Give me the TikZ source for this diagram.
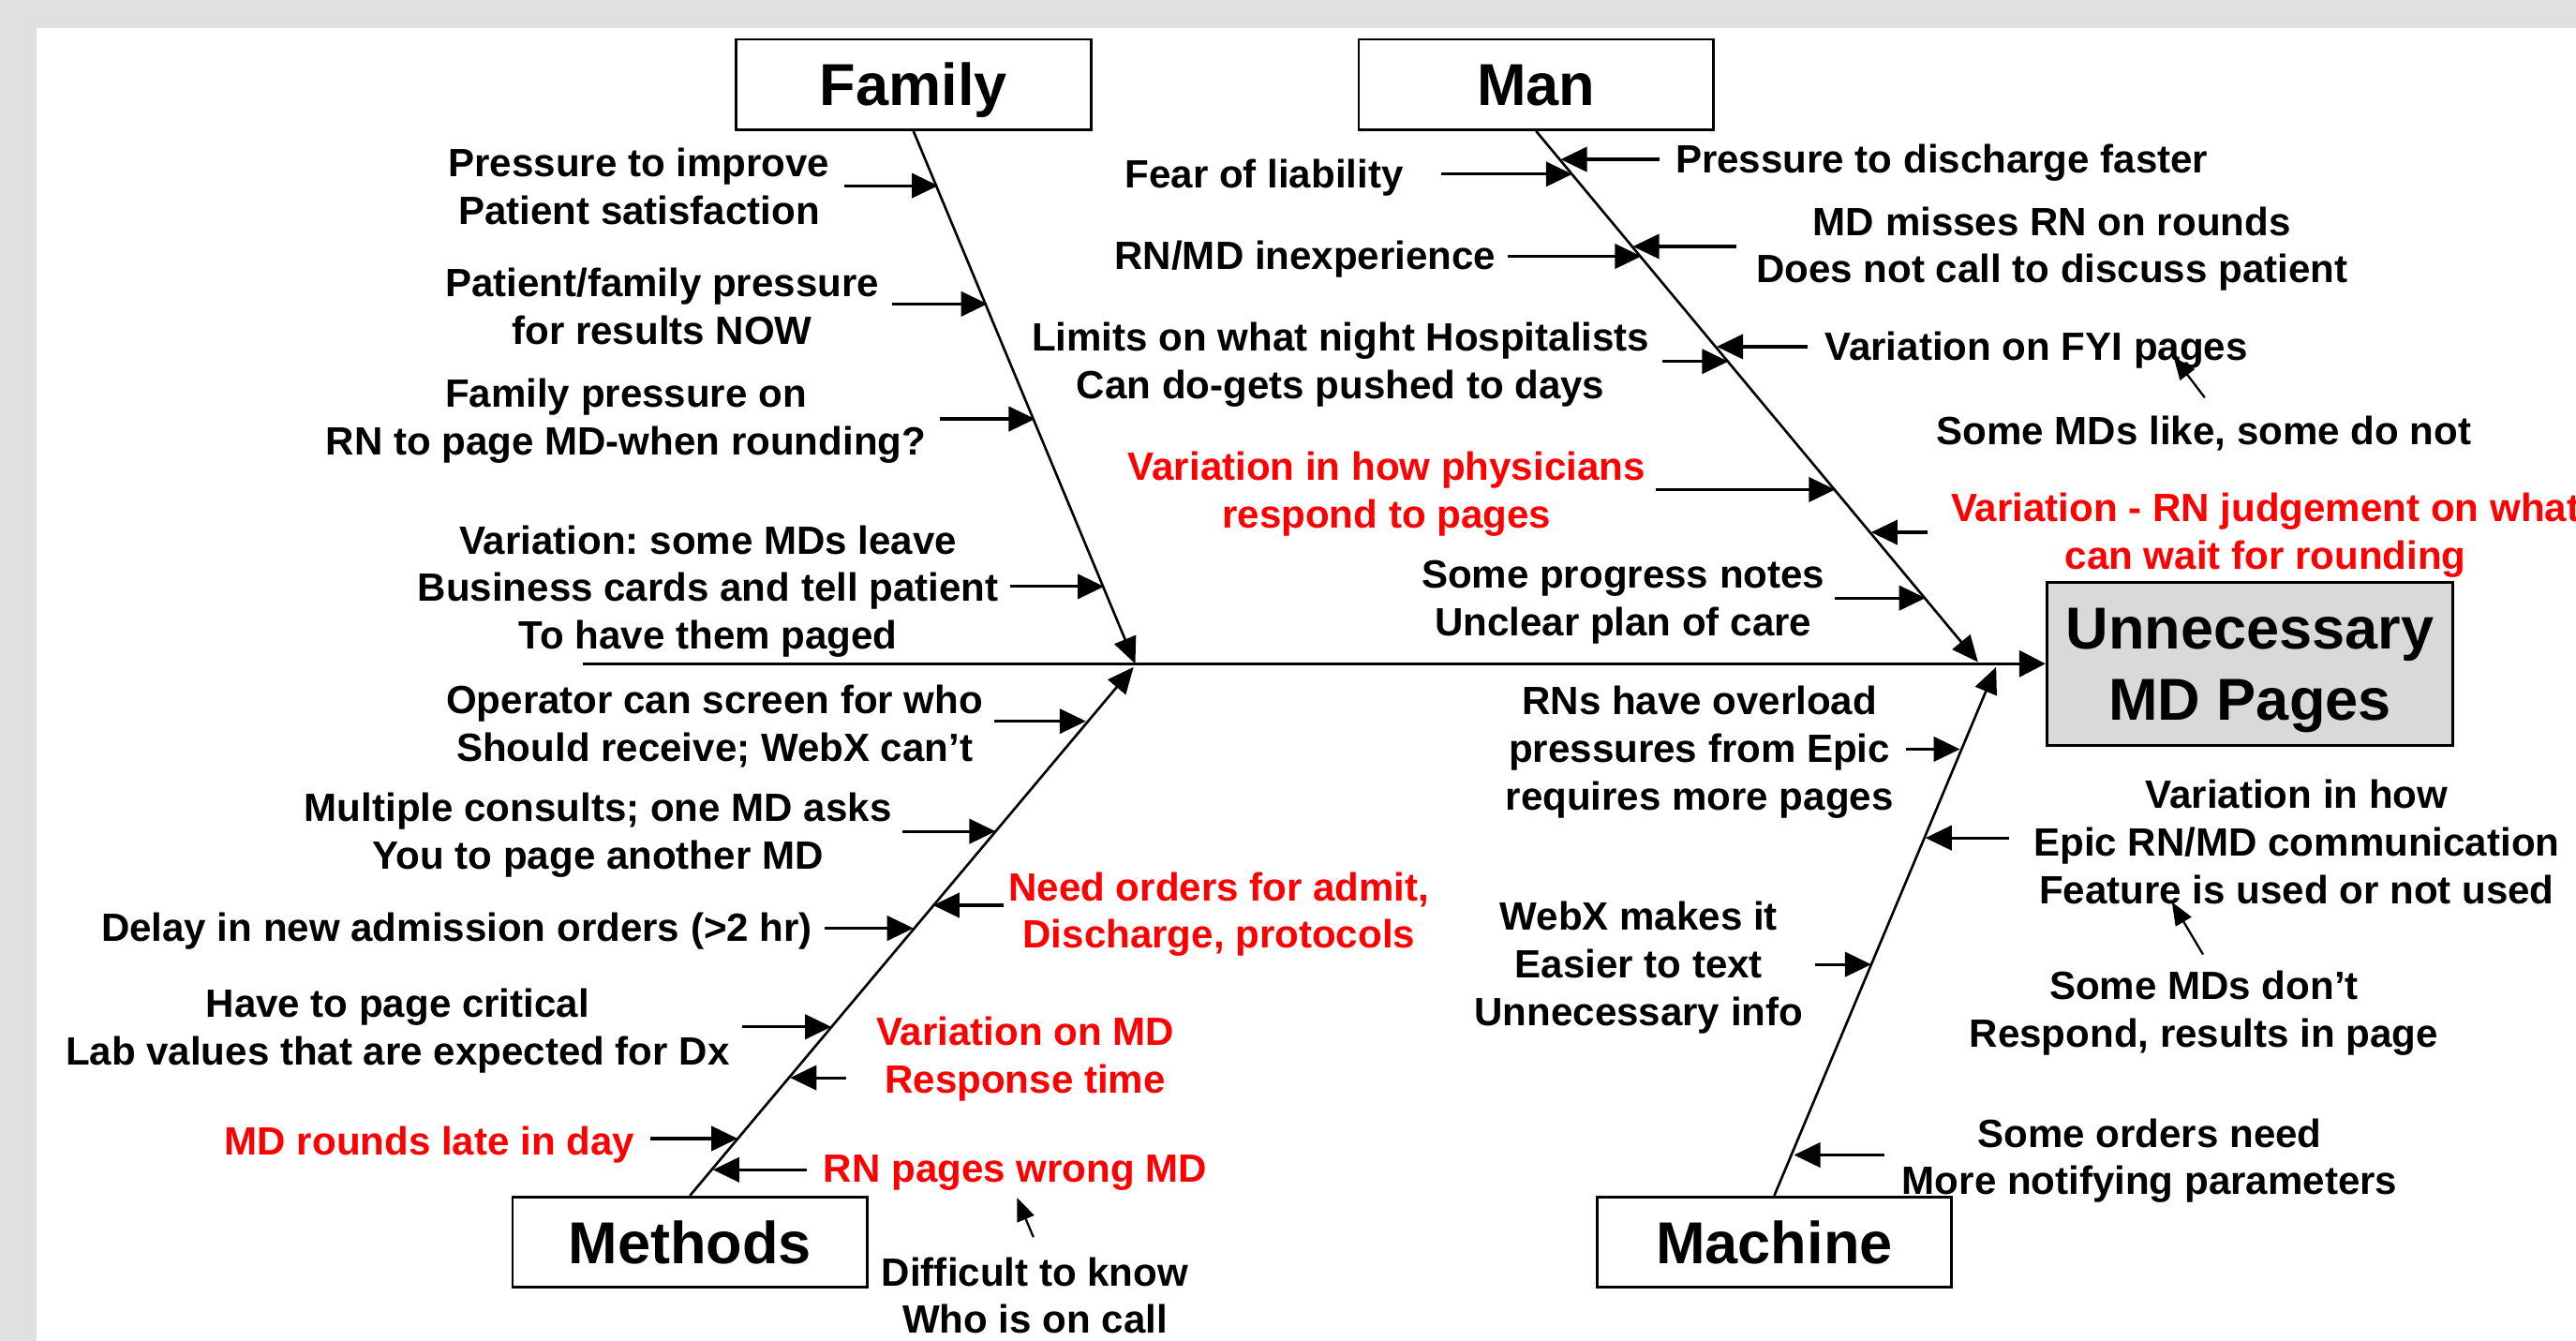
\documentclass[tikz,border=0pt]{standalone}
\usepackage{fontspec}
\setmainfont{Liberation Sans}
\usetikzlibrary{arrows.meta}
\definecolor{bggray}{RGB}{224,224,224}
\definecolor{boxgray}{RGB}{217,217,217}
\frenchspacing
\begin{document}
\begin{tikzpicture}[x=1pt,y=-1pt,
  txt/.style={font=\fontsize{24}{29}\selectfont\bfseries, align=center, inner sep=0pt, yshift=-2pt},
  redtxt/.style={txt, text=red},
  catbox/.style={draw, line width=1.6pt, minimum width=216pt, minimum height=55pt, inner sep=0pt},
  title/.style={font=\fontsize{36}{43}\selectfont\bfseries, align=center, inner sep=0pt},
  bone/.style={line width=1.5pt, -{Triangle[length=16pt,width=14pt]}},
  cause/.style={line width=1.8pt, -{Triangle[length=16pt,width=15pt]}},
  pointer/.style={line width=1.3pt, -{Triangle[length=14pt,width=11pt]}}
]
\useasboundingbox (0,0) rectangle (1568,816);
\fill[white] (0,0) rectangle (1568,816);
\fill[bggray] (0,0) rectangle (1568,17);
\fill[bggray] (0,0) rectangle (22,816);

% category boxes and effect
\node[catbox] (fam) at (556,51.5) {};
\node[catbox] (man) at (935,51.5) {};
\node[catbox] (meth) at (420,756) {};
\node[catbox] (mach) at (1080,756) {};
\node[title, anchor=base] (famL) at (556,64) {Family};
\node[title, anchor=base] (manL) at (935,64) {Man};
\node[title, anchor=base] (methL) at (420,769) {Methods};
\node[title, anchor=base] (machL) at (1080,769) {Machine};
\node[draw, line width=1.8pt, fill=boxgray, minimum width=247pt, minimum height=99pt, inner sep=0pt] (eff) at (1369.5,404) {};
\node[title] (effL) at (1369.5,408) {Unnecessary\\MD Pages};

% spine and bones
\coordinate (spineL) at (355,404);
\draw[line width=2pt, -{Triangle[length=16pt,width=16pt]}] (spineL) -- (eff.west);
\coordinate (famT) at (691,404);
\coordinate (manT) at (1204,403);
\coordinate (methT) at (690,406);
\coordinate (machT) at (1215,406);
\draw[bone] (fam.south) -- (famT);
\draw[bone] (man.south) -- (manT);
\draw[bone] (meth.north) -- (methT);
\draw[bone] (mach.north) -- (machT);

% Family causes
\node[txt] (t1) at (389,111.5) {Pressure to improve\\Patient satisfaction};
\node[txt] (t2) at (403,184.5) {Patient/family pressure\\for results NOW};
\node[txt] (t3) at (381,254) {Family pressure on\\RN to page MD-when rounding?};
\node[txt] (t4) at (431,358) {Variation: some MDs leave\\Business cards and tell patient\\To have them paged};
\coordinate (f1s) at (514,113); \coordinate (f1e) at (571,113);
\coordinate (f2s) at (543,185); \coordinate (f2e) at (601,185);
\coordinate (f3s) at (572,255); \coordinate (f3e) at (630,255);
\coordinate (f4s) at (615,357); \coordinate (f4e) at (672,357);
\draw[cause] (f1s) -- (f1e);
\draw[cause] (f2s) -- (f2e);
\draw[cause] (f3s) -- (f3e);
\draw[cause] (f4s) -- (f4e);

% Man causes
\node[txt] (t5) at (769.5,106) {Fear of liability};
\node[txt] (t6) at (1182,97) {Pressure to discharge faster};
\node[txt] (t7) at (794.5,156) {RN/MD inexperience};
\node[txt] (t8) at (1249,149.5) {MD misses RN on rounds\\Does not call to discuss patient};
\node[txt] (t9) at (816,220) {Limits on what night Hospitalists\\Can do-gets pushed to days};
\node[txt] (t10) at (1239.5,211) {Variation on FYI pages};
\node[txt] (t11) at (1341.5,262) {Some MDs like, some do not};
\node[redtxt] (t12) at (844,298.5) {Variation in how physicians\\respond to pages};
\node[redtxt] (t13) at (1379,324) {Variation - RN judgement on what\\can wait for rounding};
\node[txt] (t14) at (988,364.5) {Some progress notes\\Unclear plan of care};
\coordinate (m1s) at (877,106); \coordinate (m1e) at (957,106);
\coordinate (m2s) at (1010,97); \coordinate (m2e) at (950,97);
\coordinate (m3s) at (918,156); \coordinate (m3e) at (999,156);
\coordinate (m4s) at (1057,150); \coordinate (m4e) at (994,150);
\coordinate (m5s) at (1012,220); \coordinate (m5e) at (1052,220);
\coordinate (m6s) at (1100,211); \coordinate (m6e) at (1045,211);
\coordinate (m7s) at (1342,242); \coordinate (m7e) at (1323,217);
\coordinate (m8s) at (1008,298); \coordinate (m8e) at (1117,298);
\coordinate (m9s) at (1173,324); \coordinate (m9e) at (1139,324);
\coordinate (m10s) at (1117,364); \coordinate (m10e) at (1172,364);
\draw[cause] (m1s) -- (m1e);
\draw[cause] (m2s) -- (m2e);
\draw[cause] (m3s) -- (m3e);
\draw[cause] (m4s) -- (m4e);
\draw[cause] (m5s) -- (m5e);
\draw[cause] (m6s) -- (m6e);
\draw[pointer] (m7s) -- (m7e);
\draw[cause] (m8s) -- (m8e);
\draw[cause] (m9s) -- (m9e);
\draw[cause] (m10s) -- (m10e);

% Machine causes
\node[txt] (t15) at (1034.5,456) {RNs have overload\\pressures from Epic\\requires more pages};
\node[txt] (t16) at (1398,510.5) {Variation in how\\Epic RN/MD communication\\Feature is used or not used};
\node[txt] (t17) at (1341.5,614.5) {Some MDs don’t\\Respond, results in page};
\node[txt] (t18) at (997.5,587) {WebX makes it\\Easier to text\\Unnecessary info};
\node[txt] (t19) at (1308.5,704.5) {Some orders need\\More notifying parameters};
\coordinate (c1s) at (1160,456); \coordinate (c1e) at (1193,456);
\coordinate (c2s) at (1223,510); \coordinate (c2e) at (1172,510);
\coordinate (c3s) at (1341,581); \coordinate (c3e) at (1322,549);
\coordinate (c4s) at (1105,587); \coordinate (c4e) at (1139,587);
\coordinate (c5s) at (1147,703); \coordinate (c5e) at (1092,703);
\draw[cause] (c1s) -- (c1e);
\draw[cause] (c2s) -- (c2e);
\draw[pointer] (c3s) -- (c3e);
\draw[cause] (c4s) -- (c4e);
\draw[cause] (c5s) -- (c5e);

% Methods causes
\node[txt] (t20) at (435,440) {Operator can screen for who\\Should receive; WebX can’t};
\node[txt] (t21) at (364,506.5) {Multiple consults; one MD asks\\You to page another MD};
\node[txt] (t22) at (278,565) {Delay in new admission orders (>2 hr)};
\node[redtxt] (t23) at (742,554.5) {Need orders for admit,\\Discharge, protocols};
\node[txt] (t24) at (242,625.5) {Have to page critical\\Lab values that are expected for Dx};
\node[redtxt] (t25) at (624,642.5) {Variation on MD\\Response time};
\node[redtxt] (t26) at (261.5,695) {MD rounds late in day};
\node[redtxt] (t27) at (618,712) {RN pages wrong MD};
\node[txt] (t28) at (630,786.5) {Difficult to know\\Who is on call};
\coordinate (d1s) at (605,439); \coordinate (d1e) at (661,439);
\coordinate (d2s) at (549,506); \coordinate (d2e) at (606,506);
\coordinate (d3s) at (502,565); \coordinate (d3e) at (556,565);
\coordinate (d4s) at (611,551); \coordinate (d4e) at (568,551);
\coordinate (d5s) at (452,625); \coordinate (d5e) at (506,625);
\coordinate (d6s) at (515,656); \coordinate (d6e) at (481,656);
\coordinate (d7s) at (396,693); \coordinate (d7e) at (449,693);
\coordinate (d8s) at (491,712); \coordinate (d8e) at (434,712);
\coordinate (d9s) at (629,753); \coordinate (d9e) at (619,729);
\draw[cause] (d1s) -- (d1e);
\draw[cause] (d2s) -- (d2e);
\draw[cause] (d3s) -- (d3e);
\draw[cause] (d4s) -- (d4e);
\draw[cause] (d5s) -- (d5e);
\draw[cause] (d6s) -- (d6e);
\draw[cause] (d7s) -- (d7e);
\draw[cause] (d8s) -- (d8e);
\draw[pointer] (d9s) -- (d9e);
\end{tikzpicture}
\end{document}
